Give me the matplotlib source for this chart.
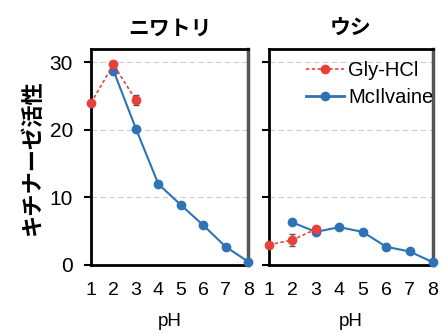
import numpy as np
import matplotlib
matplotlib.use("Agg")
import matplotlib.pyplot as plt
from matplotlib.lines import Line2D

plt.rcParams['font.family'] = ['Liberation Sans', 'Noto Sans CJK JP', 'DejaVu Sans']

ph = [1, 2, 3, 4, 5, 6, 7, 8]
titles = ["ニワトリ", "ウシ"]

# chicken
chk_gly_ph = [1, 2, 3]
chk_gly = [24.0, 29.7, 24.4]
chk_gly_err = [0.3, 0.4, 0.7]
chk_mc_ph = [2, 3, 4, 5, 6, 7, 8]
chk_mc = [28.8, 20.2, 12.0, 8.9, 5.9, 2.7, 0.5]
chk_mc_err = [0.3, 0.4, 0.4, 0.3, 0.2, 0.2, 0.1]

# cow
cow_gly_ph = [1, 2, 3]
cow_gly = [3.0, 3.7, 5.3]
cow_gly_err = [0.2, 0.9, 0.3]
cow_mc_ph = [2, 3, 4, 5, 6, 7, 8]
cow_mc = [6.3, 4.9, 5.6, 4.9, 2.7, 2.0, 0.4]
cow_mc_err = [0.3, 0.3, 0.3, 0.2, 0.2, 0.2, 0.1]

red = '#e8413c'
blue = '#2f72b5'
gly_ls = (0, (2, 1.5))

fig = plt.figure(figsize=(4.45, 3.34), dpi=100)
ax1 = fig.add_axes([0.2045, 0.2066, 0.353, 0.647])
ax2 = fig.add_axes([0.6045, 0.2066, 0.3685, 0.647])

data = [(chk_gly_ph, chk_gly, chk_gly_err, chk_mc_ph, chk_mc, chk_mc_err),
        (cow_gly_ph, cow_gly, cow_gly_err, cow_mc_ph, cow_mc, cow_mc_err)]

for ax, t, d in zip([ax1, ax2], titles, data):
    gx, gy, ge, mx, my, me = d
    ax.errorbar(mx, my, yerr=me, color=blue, lw=1.5, marker='o', ms=6,
                ecolor='#555555', elinewidth=1, capsize=2, zorder=3)
    ax.errorbar(gx, gy, yerr=ge, color=red, lw=1.2, ls=gly_ls, marker='o', ms=6,
                ecolor='#555555', elinewidth=1, capsize=2, zorder=4)
    ax.set_xlim(1, 8)
    ax.set_ylim(0, 32)
    ax.set_xticks(ph)
    ax.set_yticks([0, 10, 20, 30])
    ax.yaxis.grid(True, ls=(0, (5, 3)), color='#cccccc', lw=0.8)
    ax.set_axisbelow(True)
    ax.tick_params(axis='x', length=0, pad=12, labelsize=14)
    ax.tick_params(axis='y', length=5, width=1.5, pad=8, labelsize=15)
    ax.set_title(t, fontsize=15, fontweight='bold', family=['Noto Sans CJK JP'], pad=10)
    ax.set_xlabel('pH', fontsize=13.5, labelpad=10)
    for s in ['left', 'bottom', 'top']:
        ax.spines[s].set_linewidth(2)
        ax.spines[s].set_color('black')
    ax.spines['right'].set_linewidth(2.5)
    ax.spines['right'].set_color('#555555')
    for l in ax.lines:
        l.set_clip_on(False)

ax2.set_yticklabels([])
ax1.set_ylabel('キチナーゼ活性', fontsize=16, fontweight='bold',
               family=['Noto Sans CJK JP'], labelpad=4)

handles = [Line2D([], [], color=red, lw=1.2, ls=gly_ls, marker='o', ms=6),
           Line2D([], [], color=blue, lw=2, marker='o', ms=6)]
ax2.legend(handles, ['Gly-HCl', 'McIlvaine'], loc='upper right', frameon=False,
           fontsize=14.5, handlelength=1.9, handletextpad=0.2, borderaxespad=0,
           labelspacing=0.4, bbox_to_anchor=(1.05, 0.98))

fig.savefig('out.png', dpi=100)
